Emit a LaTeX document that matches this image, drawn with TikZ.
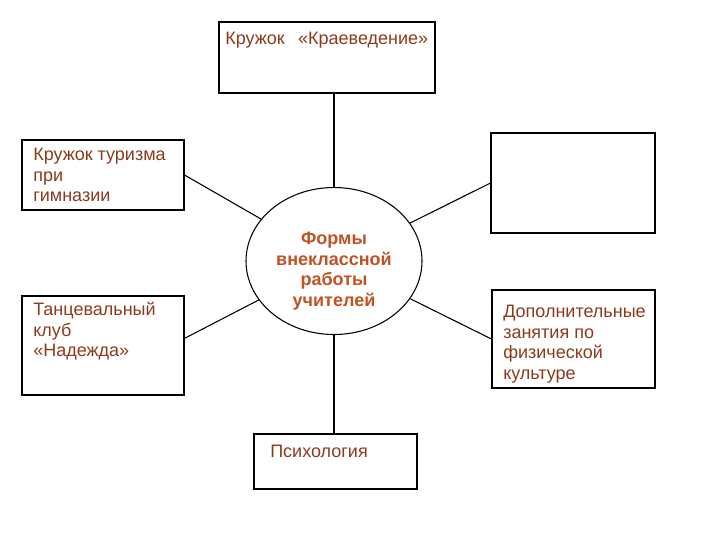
\documentclass[tikz,border=0pt]{standalone}
\usepackage{fontspec}
\setmainfont{Liberation Sans}
\usetikzlibrary{shapes,positioning}
\definecolor{boxtxt}{RGB}{140,58,28}
\definecolor{midtxt}{RGB}{192,82,36}

\begin{document}
\begin{tikzpicture}[x=0.75pt,y=-0.75pt,
  font=\fontsize{13.5}{15.4}\selectfont,
  box/.style={draw=black,rectangle,line width=0.8pt,inner sep=0pt},
  boxlabel/.style={anchor=north west,inner sep=0pt,align=left,text=boxtxt},
  link/.style={draw=black,line width=0.8pt}]

\useasboundingbox (0,0) rectangle (720,540);

% central ellipse
\node[ellipse,draw=black,line width=0.8pt,minimum width=176*0.75pt,minimum height=147*0.75pt] (forms) at (334,261) {};
\node[align=center,text=midtxt,font=\fontsize{13.5}{15.4}\selectfont\bfseries] (formstxt) at (334,271)
  {Формы\\внеклассной\\работы\\учителей};

% boxes around
\node[box,minimum width=216*0.75pt,minimum height=71*0.75pt] (kraeved) at (327,57.5) {};
\node[box,minimum width=162*0.75pt,minimum height=70*0.75pt] (turizm) at (103,175) {};
\node[box,minimum width=164*0.75pt,minimum height=100*0.75pt] (extra) at (573,183) {};
\node[box,minimum width=162*0.75pt,minimum height=99*0.75pt] (tanec) at (103,345.5) {};
\node[box,minimum width=163*0.75pt,minimum height=98*0.75pt] (fizkult) at (573.5,339) {};
\node[box,minimum width=163*0.75pt,minimum height=55*0.75pt] (psych) at (335.5,461.5) {};

% texts in boxes
\node[boxlabel] (kraevedtxt) at (225,32) {Кружок\hspace{0.75em}«Краеведение»};
\node[boxlabel] (turizmtxt) at (33,148) {Кружок туризма\\при\\гимназии};
\node[boxlabel] (tanectxt) at (33,302) {Танцевальный\\клуб\\«Надежда»};
\node[boxlabel] (fizkulttxt) at (503,305) {Дополнительные\\занятия по\\физической\\культуре};
\node[boxlabel] (psychtxt) at (270,445) {Психология};

% connect boxes to ellipse
\draw[link] (forms.north) -- (forms.north |- kraeved.south);
\draw[link] (forms.south) -- (forms.south |- psych.north);
\draw[link] (turizm.east) -- (forms);
\draw[link] (tanec.5) -- (forms);
\draw[link] (extra.west) -- (forms);
\draw[link] (fizkult.west) -- (forms);

\end{tikzpicture}
\end{document}
